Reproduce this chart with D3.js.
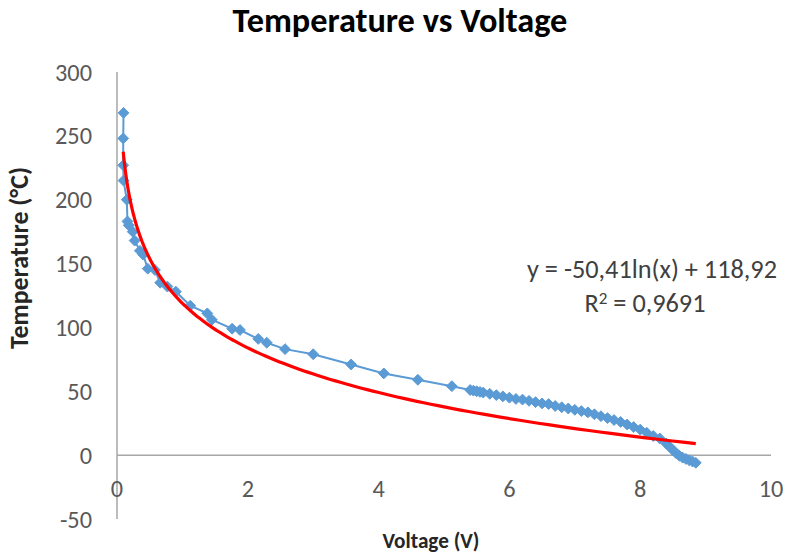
<!DOCTYPE html>
<html>
<head>
<meta charset="utf-8">
<script src="https://cdn.jsdelivr.net/npm/d3@7"></script>
<style>
  body { margin: 0; background: #fff; }
  text { font-family: Carlito, "Open Sans", "Noto Sans", sans-serif; }
</style>
</head>
<body>
<div id="chart"></div>
<script>
// measured series (Voltage in V, Temperature in °C)
const voltage = [0.10, 0.095, 0.095, 0.10, 0.15, 0.16, 0.18, 0.24, 0.27, 0.35, 0.40, 0.47, 0.58, 0.66, 0.77, 0.90,
  1.12, 1.38, 1.45, 1.76, 1.88, 2.16, 2.29, 2.57, 3.00, 3.58, 4.08, 4.60, 5.12,
  5.40, 5.45, 5.50, 5.55, 5.60, 5.70, 5.80, 5.90, 6.00, 6.10, 6.20, 6.30, 6.40, 6.50, 6.60, 6.70, 6.80, 6.90,
  7.00, 7.10, 7.20, 7.30, 7.40, 7.50, 7.60, 7.70, 7.80, 7.90, 8.00, 8.10, 8.20, 8.30, 8.40, 8.45, 8.50, 8.55,
  8.60, 8.65, 8.70, 8.75, 8.80, 8.85];
const temperature = [268, 248, 227, 215, 200, 183, 180, 175, 168, 160, 157, 146, 145, 135, 132, 128,
  117, 111, 106, 99, 98, 91, 88, 83, 79, 71, 64, 59, 54,
  51, 50.5, 50, 49.5, 49, 48, 47, 46, 45, 44, 43.5, 42.5, 41.5, 40.5, 40, 38.5, 37.5, 36.5,
  35.5, 34.5, 33.5, 32, 30.5, 29, 27.5, 26, 24, 22, 20, 17.5, 15, 13, 9, 6.5, 4, 1.5,
  -0.5, -2, -3, -4, -5, -6];

// logarithmic trendline y = a ln(x) + b
const trendA = -50.41;
const trendB = 118.92;
const trendLabel = ['y = -50,41ln(x) + 118,92', '0,9691'];

const xTicks = [0, 2, 4, 6, 8, 10];
const yTicks = [-50, 0, 50, 100, 150, 200, 250, 300];

const W = 787, H = 554;
const svg = d3.select('#chart').append('svg')
  .attr('width', W)
  .attr('height', H);

const x = d3.scaleLinear().domain([0, 10]).range([117, 771]);
const y = d3.scaleLinear().domain([-50, 300]).range([519, 72]);

const axisColor = '#a6a6a6';
const labelColor = '#595959';

// scale a text's font so its width matches the reference
function fitWidth(sel, target) {
  const len = sel.node().getComputedTextLength();
  const fs = parseFloat(sel.style('font-size'));
  sel.style('font-size', (fs * target / len) + 'px');
  return fs * target / len;
}

// axes
svg.append('line')
  .attr('x1', x(0)).attr('x2', x(0))
  .attr('y1', y(300)).attr('y2', y(-50))
  .attr('stroke', axisColor).attr('stroke-width', 1.5);
svg.append('line')
  .attr('x1', x(0)).attr('x2', x(10))
  .attr('y1', y(0)).attr('y2', y(0))
  .attr('stroke', axisColor).attr('stroke-width', 1.5);

const ytickText = svg.selectAll('.ytick')
  .data(yTicks)
  .join('text')
  .attr('class', 'ytick')
  .attr('x', 92)
  .attr('y', d => y(d))
  .attr('dy', '0.35em')
  .attr('text-anchor', 'end')
  .attr('fill', labelColor)
  .style('font-size', '20px')
  .text(d => d);
const tickFs = fitWidth(ytickText.filter(d => d === 300), 37);
ytickText.style('font-size', tickFs + 'px');

svg.selectAll('.xtick')
  .data(xTicks)
  .join('text')
  .attr('class', 'xtick')
  .attr('x', d => x(d))
  .attr('y', 488)
  .attr('dy', '0.35em')
  .attr('text-anchor', 'middle')
  .attr('fill', labelColor)
  .style('font-size', tickFs + 'px')
  .text(d => d);

// series
const pts = voltage.map((v, i) => ({v: v, t: temperature[i]}));
const blue = '#5b9bd5';

svg.append('path')
  .datum(pts)
  .attr('fill', 'none')
  .attr('stroke', blue)
  .attr('stroke-width', 2)
  .attr('d', d3.line().x(d => x(d.v)).y(d => y(d.t)));

svg.selectAll('.pt')
  .data(pts)
  .join('path')
  .attr('class', 'pt')
  .attr('transform', d => `translate(${x(d.v)},${y(d.t)})`)
  .attr('d', d3.symbol(d3.symbolDiamond2, 75))
  .attr('fill', blue)
  .attr('stroke', blue)
  .attr('stroke-width', 1);

// trendline over data range
const vExt = d3.extent(voltage);
const trend = d3.range(0, 201).map(i => {
  const v = vExt[0] * Math.pow(vExt[1] / vExt[0], i / 200);
  return {v: v, t: trendA * Math.log(v) + trendB};
});
svg.append('path')
  .datum(trend)
  .attr('fill', 'none')
  .attr('stroke', '#ff0000')
  .attr('stroke-width', 3.2)
  .attr('d', d3.line().x(d => x(d.v)).y(d => y(d.t)));

// equation
const eq = svg.append('text')
  .attr('x', 652).attr('y', 278)
  .attr('text-anchor', 'middle')
  .attr('fill', '#404040')
  .style('font-size', '20px')
  .text(trendLabel[0]);
const eqFs = fitWidth(eq, 250);
const r2 = svg.append('text')
  .attr('x', 645).attr('y', 312)
  .attr('text-anchor', 'middle')
  .attr('fill', '#404040')
  .style('font-size', eqFs + 'px');
r2.append('tspan').text('R');
r2.append('tspan').attr('dy', -8).style('font-size', (eqFs * 0.65) + 'px').text('2');
r2.append('tspan').attr('dy', 8).text(' = ' + trendLabel[1]);

// titles
const title = svg.append('text')
  .attr('x', 400).attr('y', 32)
  .attr('text-anchor', 'middle')
  .style('font-size', '24px')
  .style('font-weight', 'bold')
  .text('Temperature vs Voltage');
fitWidth(title, 335);

const xTitle = svg.append('text')
  .attr('x', 431).attr('y', 548)
  .attr('text-anchor', 'middle')
  .attr('fill', '#262626')
  .style('font-size', '14px')
  .style('font-weight', 'bold')
  .text('Voltage (V)');
fitWidth(xTitle, 97);

const yTitle = svg.append('text')
  .attr('transform', 'translate(28,258) rotate(-90)')
  .attr('text-anchor', 'middle')
  .attr('fill', '#262626')
  .style('font-size', '14px')
  .style('font-weight', 'bold')
  .text('Temperature (°C)');
fitWidth(yTitle, 182);
</script>
</body>
</html>
